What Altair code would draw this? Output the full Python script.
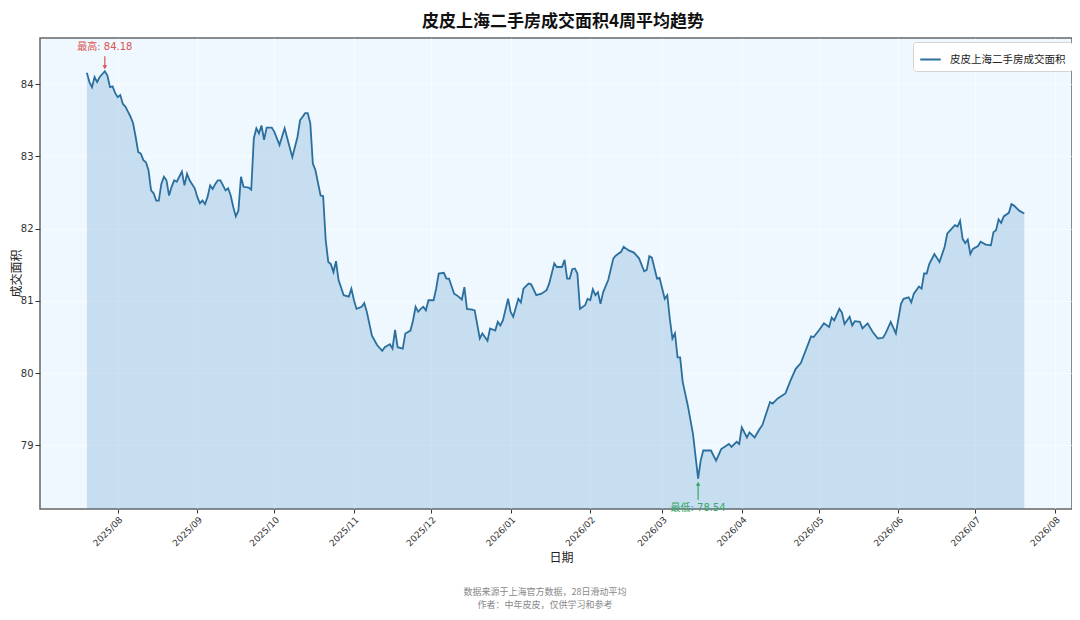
import altair as alt
import pandas as pd

title_text = "皮皮上海二手房成交面积4周平均趋势"
series_name = "皮皮上海二手房成交面积"
x_title = "日期"
y_title = "成交面积"
footer_lines = ["数据来源于上海官方数据，28日滑动平均", "作者：中年皮皮，仅供学习和参考"]

dates = [
    # 2025-07
    "2025-07-20", "2025-07-21", "2025-07-22", "2025-07-23", "2025-07-24", "2025-07-25", "2025-07-27",
    "2025-07-28", "2025-07-29", "2025-07-30", "2025-07-31",
    # 2025-08
    "2025-08-01", "2025-08-02", "2025-08-03", "2025-08-04", "2025-08-05", "2025-08-06", "2025-08-07",
    "2025-08-08", "2025-08-09", "2025-08-10", "2025-08-11", "2025-08-12", "2025-08-13", "2025-08-14",
    "2025-08-15", "2025-08-16", "2025-08-17", "2025-08-18", "2025-08-19", "2025-08-20", "2025-08-21",
    "2025-08-22", "2025-08-23", "2025-08-24", "2025-08-26", "2025-08-27", "2025-08-28", "2025-08-29",
    "2025-08-31",
    # 2025-09
    "2025-09-01", "2025-09-02", "2025-09-03", "2025-09-04", "2025-09-05", "2025-09-06", "2025-09-07",
    "2025-09-08", "2025-09-09", "2025-09-10", "2025-09-12", "2025-09-13", "2025-09-14", "2025-09-15",
    "2025-09-16", "2025-09-17", "2025-09-18", "2025-09-19", "2025-09-21", "2025-09-22", "2025-09-23",
    "2025-09-24", "2025-09-25", "2025-09-26", "2025-09-27", "2025-09-28", "2025-09-30",
    # 2025-10
    "2025-10-01", "2025-10-03", "2025-10-05", "2025-10-08", "2025-10-10", "2025-10-11", "2025-10-13",
    "2025-10-14", "2025-10-15", "2025-10-16", "2025-10-17", "2025-10-19", "2025-10-20", "2025-10-21",
    "2025-10-22", "2025-10-23", "2025-10-24", "2025-10-25", "2025-10-26", "2025-10-28", "2025-10-30",
    "2025-10-31",
    # 2025-11
    "2025-11-01", "2025-11-02", "2025-11-04", "2025-11-05", "2025-11-06", "2025-11-08", "2025-11-10",
    "2025-11-12", "2025-11-13", "2025-11-15", "2025-11-16", "2025-11-17", "2025-11-18", "2025-11-20",
    "2025-11-21", "2025-11-23", "2025-11-24", "2025-11-25", "2025-11-26", "2025-11-27", "2025-11-28",
    "2025-11-29", "2025-11-30",
    # 2025-12
    "2025-12-02", "2025-12-03", "2025-12-04", "2025-12-06", "2025-12-07", "2025-12-08", "2025-12-10",
    "2025-12-11", "2025-12-13", "2025-12-14", "2025-12-15", "2025-12-17", "2025-12-18", "2025-12-20",
    "2025-12-21", "2025-12-23", "2025-12-24", "2025-12-26", "2025-12-27", "2025-12-28", "2025-12-29",
    "2025-12-31",
    # 2026-01
    "2026-01-01", "2026-01-02", "2026-01-04", "2026-01-05", "2026-01-06", "2026-01-08", "2026-01-09",
    "2026-01-11", "2026-01-13", "2026-01-15", "2026-01-16", "2026-01-18", "2026-01-19", "2026-01-21",
    "2026-01-22", "2026-01-23", "2026-01-24", "2026-01-25", "2026-01-26", "2026-01-27", "2026-01-28",
    "2026-01-30", "2026-01-31",
    # 2026-02
    "2026-02-01", "2026-02-02", "2026-02-03", "2026-02-04", "2026-02-05", "2026-02-06", "2026-02-08",
    "2026-02-10", "2026-02-11", "2026-02-13", "2026-02-14", "2026-02-16", "2026-02-18", "2026-02-20",
    "2026-02-22", "2026-02-23", "2026-02-24", "2026-02-25", "2026-02-27", "2026-02-28",
    # 2026-03
    "2026-03-02", "2026-03-03", "2026-03-04", "2026-03-05", "2026-03-06", "2026-03-07", "2026-03-08",
    "2026-03-09", "2026-03-11", "2026-03-13", "2026-03-15", "2026-03-16", "2026-03-17", "2026-03-20",
    "2026-03-22", "2026-03-24", "2026-03-27", "2026-03-28", "2026-03-30", "2026-03-31",
    # 2026-04
    "2026-04-01", "2026-04-03", "2026-04-04", "2026-04-06", "2026-04-08", "2026-04-09", "2026-04-12",
    "2026-04-13", "2026-04-15", "2026-04-18", "2026-04-20", "2026-04-22", "2026-04-24", "2026-04-28",
    "2026-04-29",
    # 2026-05
    "2026-05-01", "2026-05-03", "2026-05-05", "2026-05-06", "2026-05-07", "2026-05-09", "2026-05-10",
    "2026-05-11", "2026-05-13", "2026-05-14", "2026-05-15", "2026-05-17", "2026-05-18", "2026-05-20",
    "2026-05-22", "2026-05-24", "2026-05-26", "2026-05-27", "2026-05-29", "2026-05-30", "2026-05-31",
    # 2026-06
    "2026-06-02", "2026-06-03", "2026-06-05", "2026-06-06", "2026-06-07", "2026-06-09", "2026-06-10",
    "2026-06-11", "2026-06-12", "2026-06-13", "2026-06-15", "2026-06-17", "2026-06-19", "2026-06-20",
    "2026-06-23", "2026-06-24", "2026-06-25", "2026-06-26", "2026-06-27", "2026-06-28", "2026-06-29",
    "2026-06-30",
    # 2026-07
    "2026-07-02", "2026-07-03", "2026-07-05", "2026-07-07", "2026-07-08", "2026-07-09", "2026-07-10",
    "2026-07-11", "2026-07-12", "2026-07-14", "2026-07-15", "2026-07-16", "2026-07-18", "2026-07-20",
]

area_values = [
    # 2025-07
    84.16, 84.03, 83.96, 84.10, 84.03, 84.10, 84.18,
    84.12, 83.96, 83.97, 83.88,
    # 2025-08
    83.82, 83.85, 83.73, 83.69, 83.62, 83.55, 83.46,
    83.27, 83.06, 83.04, 82.95, 82.92, 82.81, 82.53,
    82.49, 82.39, 82.39, 82.62, 82.72, 82.67, 82.46,
    82.58, 82.67, 82.65, 82.79, 82.60, 82.76, 82.67,
    82.56,
    # 2025-09
    82.44, 82.35, 82.39, 82.34, 82.44, 82.60, 82.55,
    82.62, 82.67, 82.67, 82.53, 82.56, 82.46, 82.30,
    82.17, 82.25, 82.72, 82.58, 82.57, 82.54, 83.25,
    83.39, 83.32, 83.43, 83.23, 83.40, 83.40,
    # 2025-10
    83.34, 83.16, 83.39, 82.99, 83.27, 83.50, 83.60,
    83.60, 83.46, 82.90, 82.81, 82.46, 82.45, 81.84,
    81.54, 81.51, 81.40, 81.55, 81.29, 81.08, 81.06,
    81.17,
    # 2025-11
    81.01, 80.89, 80.92, 80.97, 80.85, 80.52, 80.39,
    80.31, 80.36, 80.40, 80.34, 80.60, 80.36, 80.34,
    80.55, 80.59, 80.73, 80.92, 80.85, 80.89, 80.92,
    80.87, 81.01,
    # 2025-12
    81.01, 81.17, 81.38, 81.39, 81.31, 81.31, 81.10,
    81.08, 81.02, 81.19, 80.89, 80.88, 80.87, 80.48,
    80.55, 80.45, 80.62, 80.59, 80.71, 80.66, 80.73,
    81.03,
    # 2026-01
    80.85, 80.78, 81.03, 80.98, 81.17, 81.24, 81.23,
    81.08, 81.10, 81.15, 81.24, 81.52, 81.47, 81.47,
    81.57, 81.31, 81.31, 81.44, 81.45, 81.38, 80.89,
    80.94, 81.03,
    # 2026-02
    81.01, 81.16, 81.08, 81.12, 80.96, 81.12, 81.29,
    81.59, 81.63, 81.68, 81.75, 81.70, 81.67, 81.59,
    81.41, 81.43, 81.62, 81.60, 81.31, 81.32,
    # 2026-03
    81.03, 81.08, 80.75, 80.48, 80.55, 80.22, 80.22,
    79.88, 79.55, 79.16, 78.54, 78.79, 78.93, 78.93,
    78.79, 78.95, 79.02, 78.98, 79.05, 79.02,
    # 2026-04
    79.25, 79.11, 79.18, 79.11, 79.23, 79.28, 79.60,
    79.58, 79.65, 79.72, 79.90, 80.06, 80.14, 80.51,
    80.50,
    # 2026-05
    80.59, 80.69, 80.64, 80.77, 80.73, 80.89, 80.84,
    80.68, 80.78, 80.66, 80.72, 80.71, 80.62, 80.69,
    80.57, 80.48, 80.49, 80.55, 80.71, 80.63, 80.55,
    # 2026-06
    80.96, 81.03, 81.05, 80.98, 81.10, 81.20, 81.17,
    81.38, 81.38, 81.51, 81.65, 81.54, 81.75, 81.93,
    82.05, 82.03, 82.11, 81.86, 81.80, 81.85, 81.65,
    81.72,
    # 2026-07
    81.76, 81.82, 81.78, 81.77, 81.95, 81.98, 82.13,
    82.08, 82.17, 82.22, 82.34, 82.32, 82.25, 82.21,
]

assert len(dates) == len(area_values)

# month ticks (year, month) and y ticks
month_ticks = [(2025, 8), (2025, 9), (2025, 10), (2025, 11), (2025, 12), (2026, 1), (2026, 2),
               (2026, 3), (2026, 4), (2026, 5), (2026, 6), (2026, 7), (2026, 8)]
y_ticks = [79, 80, 81, 82, 83, 84]
y_domain = [78.12, 84.64]

LINE_COLOR = "#2a6f9e"
FILL_COLOR = "#1f77b4"
RED = "#d9534f"
GREEN = "#35a866"
FONT = "DejaVu Sans, Noto Sans CJK SC"
CJK = "Noto Sans CJK SC"

df = pd.DataFrame({"date": dates, "value": area_values})
df["series"] = series_name

imax = df["value"].idxmax()
imin = df["value"].idxmin()
max_df = df.loc[[imax]].copy()
min_df = df.loc[[imin]].copy()
max_df["label"] = [f"最高: {v:.2f}" for v in max_df["value"]]
min_df["label"] = [f"最低: {v:.2f}" for v in min_df["value"]]

x_scale = alt.Scale(
    type="utc",
    domain=[alt.DateTime(year=2025, month=7, date=1, hours=18, utc=True),
            alt.DateTime(year=2026, month=8, date=7, hours=14, utc=True)],
)
y_scale = alt.Scale(domain=y_domain, nice=False, zero=False)

x_axis = alt.Axis(
    values=[alt.DateTime(year=y, month=m, date=1, utc=True) for y, m in month_ticks],
    format="%Y/%m", labelAngle=-45, labelAlign="right", labelBaseline="top",
    labelFontSize=9, labelFont=FONT, labelColor="#333", labelPadding=2,
    tickSize=4, tickColor="#333", grid=True,
    title=x_title, titleFont=CJK, titleFontSize=12, titleFontWeight="normal",
    titleColor="#222", titleX=521, titleY=48, titleBaseline="middle",
)
y_axis = alt.Axis(
    values=y_ticks, format="d", labelFontSize=10, labelFont=FONT, labelColor="#333",
    labelPadding=2, tickSize=5, tickColor="#333", grid=True,
    title=y_title, titleFont=CJK, titleFontSize=12, titleFontWeight="normal",
    titleColor="#222", titleX=-24, titleY=235, titleAngle=-90,
    titleAlign="center", titleBaseline="middle",
)

x_enc = alt.X("date:T", scale=x_scale, axis=x_axis)
y_enc = alt.Y("value:Q", scale=y_scale, axis=y_axis)

base = alt.Chart(df)

area = base.mark_area(color=FILL_COLOR, opacity=0.2, clip=True).encode(x=x_enc, y=y_enc)

line = base.mark_line(strokeWidth=1.8, clip=True).encode(
    x="date:T", y="value:Q",
    color=alt.Color(
        "series:N",
        scale=alt.Scale(domain=[series_name], range=[LINE_COLOR]),
        legend=alt.Legend(
            title=None, orient="none", legendX=873, legendY=4, symbolType="stroke",
            symbolSize=420, symbolStrokeWidth=2, labelFontSize=10.5, labelFont=CJK,
            labelColor="#222", fillColor="white", strokeColor="#d4d4d4", padding=6,
            cornerRadius=3, labelOffset=8,
        ),
    ),
)

max_rule = alt.Chart(max_df).mark_rule(color=RED, strokeWidth=1.2, yOffset=-15, y2Offset=-4).encode(
    x="date:T", y="value:Q", y2="value:Q")
max_head = alt.Chart(max_df).mark_point(shape="triangle-down", filled=True, size=22, color=RED,
                                         opacity=1, yOffset=-4).encode(x="date:T", y="value:Q")
max_text = alt.Chart(max_df).mark_text(color=RED, fontSize=10, font=FONT, dy=-24).encode(
    x="date:T", y="value:Q", text="label:N")

min_rule = alt.Chart(min_df).mark_rule(color=GREEN, strokeWidth=1.2, yOffset=21, y2Offset=5).encode(
    x="date:T", y="value:Q", y2="value:Q")
min_head = alt.Chart(min_df).mark_point(shape="triangle-up", filled=True, size=22, color=GREEN,
                                         opacity=1, yOffset=5).encode(x="date:T", y="value:Q")
min_text = alt.Chart(min_df).mark_text(color=GREEN, fontSize=10, font=FONT, dy=29).encode(
    x="date:T", y="value:Q", text="label:N")

foot1 = alt.Chart(pd.DataFrame({"t": [footer_lines[0]]})).mark_text(
    fontSize=9, font=CJK, color="#888").encode(x=alt.value(505), y=alt.value(554), text="t:N")
foot2 = alt.Chart(pd.DataFrame({"t": [footer_lines[1]]})).mark_text(
    fontSize=9, font=CJK, color="#888").encode(x=alt.value(505), y=alt.value(567), text="t:N")

chart = alt.layer(
    area, line, max_rule, max_head, max_text, min_rule, min_head, min_text, foot1, foot2
).properties(
    width=1032, height=471,
    padding={"left": 32, "top": 30, "right": 0, "bottom": 102},
    autosize=alt.AutoSizeParams(type="none"),
    background="white",
    title=alt.TitleParams(text=title_text, font=CJK, fontSize=17, fontWeight="bold",
                          color="#111", anchor="middle", offset=7, dx=7),
).configure_view(
    fill="#f0f8ff", stroke="#666", strokeWidth=1.5,
).configure_axis(
    domain=False, gridColor="white", gridOpacity=0.55, gridWidth=1,
)

chart.save("out.html", embed_options={"renderer": "svg", "actions": False})
